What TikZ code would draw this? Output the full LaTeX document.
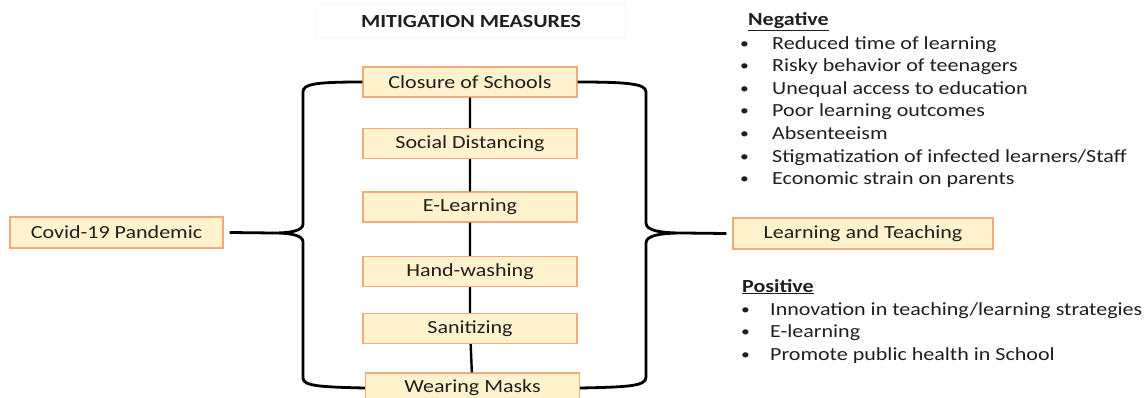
\documentclass[tikz,border=0pt]{standalone}
\usepackage{fontspec}
\setmainfont[FakeStretch=1.19]{Carlito}
\usetikzlibrary{positioning}
\definecolor{boxfill}{RGB}{255,242,204}
\definecolor{boxline}{RGB}{244,170,120}
\tikzset{
	measure/.style={draw=boxline, fill=boxfill, line width=1.4pt, minimum width=214pt, minimum height=30pt, inner sep=0pt},
	link/.style={line width=2.4pt},
	brace/.style={line width=2.8pt, line join=round},
	item/.style={anchor=base west, inner sep=0pt},
}
\newcommand{\bul}[1]{\makebox[#1][l]{\raisebox{1pt}{\scalebox{0.8}{\textbullet}}}}
\begin{document}
\begin{tikzpicture}[x=1pt, y=-1pt, font=\fontsize{18.5}{22.6}\selectfont, text=black!88]
	\useasboundingbox (0,0) rectangle (1147,398);
	\clip (0,0) rectangle (1147,398);
	% title
	\draw[black!3, fill=white] (315,3) rectangle (625,37);
	\node[inner sep=0pt] (title) at (471,22) {\textbf{MITIGATION MEASURES}};
	% measures
	\node[measure] (closure) at (470,82) {Closure of Schools};
	\node[measure] (social) at (470,143.5) {Social Distancing};
	\node[measure] (elearn) at (470,207) {E-Learning};
	\node[measure] (hand) at (470,271.5) {Hand-washing};
	\node[measure] (sanit) at (470,328.5) {Sanitizing};
	\node[measure] (masks) at (472.5,388) {Wearing Masks};
	\draw[link] (closure) -- (social) -- (elearn) -- (hand) -- (sanit) -- (masks);
	% cause and effect
	\node[measure, minimum width=213pt, minimum height=31pt] (covid) at (116.5,232.5) {Covid-19 Pandemic};
	\node[measure, minimum width=260pt, minimum height=31pt] (learn) at (863,233.5) {Learning and Teaching};
	% left brace
	\coordinate (ltip) at (273,233);
	\draw[brace] (closure.west) .. controls (315,82) and (303,84) .. (303,92) -- (303,224)
		.. controls (303,231) and (290,233) .. (ltip)
		.. controls (290,233) and (303,235) .. (303,242) -- (303,378)
		.. controls (303,386) and (320,387) .. (masks.west);
	\draw[brace] (covid.east) ++(6,0) -- (ltip);
	% right brace
	\coordinate (rtip) at (683,233);
	\draw[brace] (closure.east) .. controls (630,82) and (646,84) .. (646,92) -- (646,223)
		.. controls (646,231) and (662,233) .. (rtip)
		.. controls (662,233) and (646,235) .. (646,243) -- (646,377)
		.. controls (646,386) and (630,387) .. (masks.east);
	\draw[brace] (rtip) -- ([xshift=-6pt]learn.west);
	% effects
	\node[item] (neghead) at (748,25.5) {\underline{\textbf{Negative}}};
	\foreach \txt [count=\i] in {Reduced time of learning, Risky behavior of teenagers,
		Unequal access to education, Poor learning outcomes, Absenteeism,
		Stigmatization of infected learners/Staff, Economic strain on parents}
		\node[item] (neg\i) at (740,26.5+22.6*\i) {\bul{32pt}\txt};
	\node[item] (poshead) at (742,292) {\underline{\textbf{Positive}}};
	\foreach \txt [count=\i] in {Innovation in teaching/learning strategies, E-learning,
		Promote public health in School}
		\node[item] (pos\i) at (741,292.5+22.6*\i) {\bul{29pt}\txt};
\end{tikzpicture}
\end{document}
